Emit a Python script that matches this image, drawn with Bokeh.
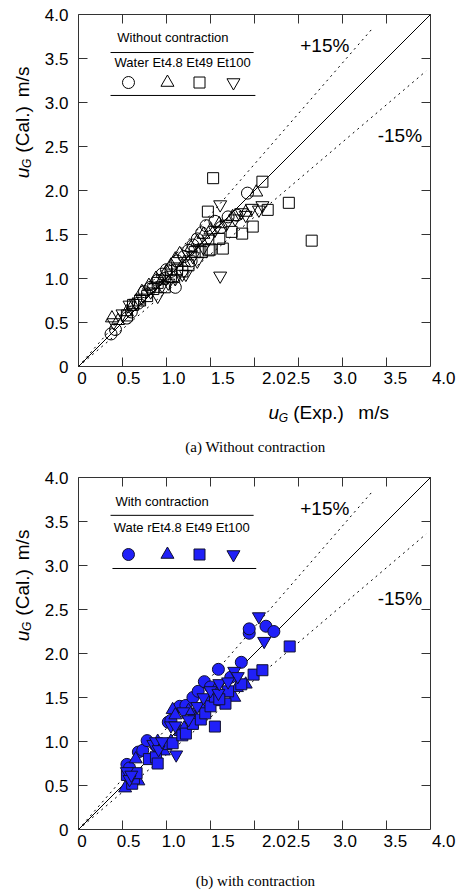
import numpy as np
from bokeh.plotting import figure
from bokeh.models import LinearAxis, FixedTicker, Label, Range1d
from bokeh.layouts import column
from bokeh.embed import file_html
from bokeh.resources import INLINE

# ---------------- data ----------------
# (a) Without contraction
a_water_x = [0.37, 0.42, 0.55, 0.60, 0.68, 0.75, 0.82, 0.90, 0.95, 1.00, 1.05, 1.10, 1.12, 1.20, 1.25, 1.30, 1.35, 1.40, 1.45, 1.55, 1.62, 1.70, 1.80, 1.92, 1.28, 0.98]
a_water_y = [0.37, 0.42, 0.55, 0.62, 0.72, 0.85, 0.90, 0.98, 1.05, 1.10, 1.08, 0.90, 1.20, 1.25, 1.32, 1.38, 1.45, 1.52, 1.60, 1.65, 1.58, 1.70, 1.72, 1.97, 1.20, 1.00]
a_et48_x = [0.38, 0.45, 0.55, 0.62, 0.72, 0.80, 0.88, 0.95, 1.00, 1.05, 1.10, 1.15, 1.20, 1.28, 1.35, 1.42, 1.50, 1.60, 1.75, 1.90, 2.02, 1.08]
a_et48_y = [0.55, 0.52, 0.62, 0.70, 0.85, 0.92, 1.00, 0.98, 1.08, 1.15, 1.22, 1.28, 1.18, 1.35, 1.42, 1.50, 1.55, 1.62, 1.70, 1.75, 1.98, 1.00]
a_et49_x = [0.55, 0.62, 0.70, 0.78, 0.85, 0.90, 0.98, 1.05, 1.12, 1.18, 1.25, 1.32, 1.40, 1.48, 1.50, 1.64, 1.74, 1.86, 1.98, 1.47, 1.53, 2.09, 2.15, 2.39, 2.65, 1.60]
a_et49_y = [0.58, 0.70, 0.75, 0.80, 0.88, 0.95, 0.90, 1.02, 1.10, 1.08, 1.15, 1.30, 1.30, 1.32, 1.33, 1.34, 1.53, 1.51, 1.59, 1.76, 2.14, 2.10, 1.78, 1.86, 1.43, 1.45]
a_et100_x = [0.40, 0.50, 0.58, 0.65, 0.72, 0.82, 0.90, 0.95, 1.02, 1.10, 1.18, 1.22, 1.30, 1.35, 1.42, 1.48, 1.55, 1.61, 1.61, 1.68, 1.78, 1.90, 1.97, 2.05, 2.09, 1.85]
a_et100_y = [0.50, 0.60, 0.70, 0.72, 0.78, 0.85, 0.80, 0.92, 0.95, 1.00, 1.05, 1.05, 1.25, 1.20, 1.35, 1.45, 1.55, 1.84, 1.03, 1.62, 1.68, 1.72, 1.80, 1.78, 1.83, 1.75]

# (b) with contraction
b_water_x = [0.55, 0.58, 0.68, 0.73, 0.78, 0.88, 1.02, 1.05, 1.15, 1.22, 1.30, 1.36, 1.43, 1.59, 1.73, 1.85, 1.94, 1.94, 2.13, 2.22, 1.50]
b_water_y = [0.74, 0.70, 0.88, 0.90, 1.01, 0.95, 1.22, 1.24, 1.40, 1.41, 1.50, 1.57, 1.68, 1.82, 1.73, 1.90, 2.23, 2.28, 2.31, 2.25, 1.62]
b_et48_x = [0.53, 0.58, 0.65, 0.68, 0.82, 0.90, 0.97, 1.05, 1.07, 1.10, 1.16, 1.20, 1.30, 1.40, 1.50, 1.62, 1.70, 1.77, 1.80, 1.90, 1.55, 1.25]
b_et48_y = [0.47, 0.60, 0.80, 0.55, 0.80, 1.00, 0.89, 1.00, 1.36, 1.30, 1.11, 1.15, 1.30, 1.38, 1.50, 1.45, 1.55, 1.50, 1.61, 1.65, 1.58, 1.35]
b_et49_x = [0.55, 0.61, 0.63, 0.66, 0.80, 0.88, 0.90, 1.00, 1.07, 1.18, 1.22, 1.30, 1.39, 1.44, 1.50, 1.55, 1.55, 1.67, 1.70, 1.85, 1.99, 2.09, 2.40, 1.60]
b_et49_y = [0.62, 0.52, 0.58, 0.64, 0.80, 0.82, 0.75, 0.97, 0.98, 1.07, 1.09, 1.20, 1.25, 1.32, 1.40, 1.17, 1.51, 1.43, 1.57, 1.65, 1.76, 1.81, 2.08, 1.48]
b_et100_x = [0.55, 0.58, 0.60, 0.85, 0.88, 0.91, 0.95, 1.05, 1.10, 1.11, 1.19, 1.25, 1.35, 1.42, 1.50, 1.59, 1.60, 1.77, 1.81, 2.05, 2.11, 1.70]
b_et100_y = [0.66, 0.57, 0.62, 0.97, 1.00, 0.91, 1.00, 1.18, 1.18, 0.85, 1.34, 1.25, 1.40, 1.50, 1.58, 1.55, 1.66, 1.80, 1.74, 2.42, 2.14, 1.68]

# reference lines
diag_x = [0, 4]
plus_x = [0, 3.35]
minus_x = [0, 3.95]
plus_ratio = 1.15
minus_ratio = 0.85

# axis ticks / labels
AX_MIN, AX_MAX = 0, 4
tick_vals = [0, 0.5, 1, 1.5, 2, 2.5, 3, 3.5, 4]
tick_labels = ["0", "0.5", "1.0", "1.5", "2.0", "2.5", "3.0", "3.5", "4.0"]
xlabel_pos = [0.04, 0.57, 1.08, 1.64, 2.22, 2.5, 3.03, 3.6, 4.15]

markers = ["circle", "triangle", "square", "inverted_triangle"]
msizes = [12, 13, 11, 13]

FONT = "Liberation Sans"
BLUE = "#2020f8"
PX = 88.0                 # pixels per data unit
TICK_LEN = 9 / PX         # inward tick length
LEFT_PX, RIGHT_PX, TOP_PX = 78, 32, 14
FRAME_COLOR = "#333333"


def make_fig(height, caption, caption_y):
    bottom_px = height - TOP_PX - 4 * PX
    p = figure(width=462, height=height,
               x_range=Range1d(AX_MIN - LEFT_PX / PX, AX_MAX + RIGHT_PX / PX),
               y_range=Range1d(AX_MIN - bottom_px / PX, AX_MAX + TOP_PX / PX),
               output_backend="svg", toolbar_location=None,
               x_axis_location=None, y_axis_location=None,
               min_border_left=0, min_border_right=0, min_border_top=0, min_border_bottom=0)
    p.outline_line_color = None
    p.background_fill_color = "white"
    p.border_fill_color = "white"
    for r in list(p.center):
        r.visible = False

    # plot box
    p.quad(left=[AX_MIN], right=[AX_MAX], bottom=[AX_MIN], top=[AX_MAX],
           fill_color=None, line_color=FRAME_COLOR, line_width=1)

    # inward ticks on bottom, top and right edges
    inner = tick_vals[1:-1]
    n = len(inner)
    p.segment(inner, [AX_MIN] * n, inner, [AX_MIN + TICK_LEN] * n, line_color=FRAME_COLOR, line_width=1)
    p.segment(inner, [AX_MAX] * n, inner, [AX_MAX - TICK_LEN] * n, line_color=FRAME_COLOR, line_width=1)
    p.segment([AX_MAX] * n, inner, [AX_MAX - TICK_LEN] * n, inner, line_color=FRAME_COLOR, line_width=1)

    # x tick labels (as drawn in the original, slightly shifted)
    lab = LinearAxis(ticker=FixedTicker(ticks=xlabel_pos), fixed_location=AX_MIN,
                     major_label_overrides={k: v for k, v in zip(xlabel_pos, tick_labels)},
                     major_tick_line_color=None, major_tick_in=0, major_tick_out=0,
                     minor_tick_line_color=None, axis_line_color=None,
                     major_label_standoff=5,
                     major_label_text_font=FONT, major_label_text_font_size="17px",
                     major_label_text_color="black")
    p.add_layout(lab, "below")

    left = LinearAxis(ticker=FixedTicker(ticks=tick_vals), fixed_location=AX_MIN, bounds=(AX_MIN, AX_MAX),
                      major_label_overrides={k: v for k, v in zip(tick_vals, tick_labels)},
                      major_tick_in=9, major_tick_out=0, minor_tick_line_color=None,
                      axis_line_color=None, major_tick_line_color=FRAME_COLOR,
                      major_label_standoff=10, major_label_text_font=FONT,
                      major_label_text_font_size="17px", major_label_text_color="black")
    p.add_layout(left, "left")

    # reference lines
    p.line(diag_x, diag_x, line_color="black", line_width=1)
    p.line(plus_x, [v * plus_ratio for v in plus_x], line_color="black", line_width=1, line_dash="2 4")
    p.line(minus_x, [v * minus_ratio for v in minus_x], line_color="black", line_width=1, line_dash="2 4")

    p.add_layout(Label(x=2.52, y=3.65, text="+15%", text_font=FONT, text_font_size="19px",
                       text_baseline="middle", text_align="left", text_color="black"))
    p.add_layout(Label(x=3.40, y=2.63, text="-15%", text_font=FONT, text_font_size="19px",
                       text_baseline="middle", text_align="left", text_color="black"))

    # y axis title
    p.add_layout(Label(x=-0.64, y=2.14, text="u", angle=np.pi / 2, text_font=FONT,
                       text_font_size="19px", text_font_style="italic", text_baseline="alphabetic",
                       text_align="left", text_color="black"))
    p.add_layout(Label(x=-0.585, y=2.255, text="G", angle=np.pi / 2, text_font=FONT,
                       text_font_size="12px", text_font_style="italic", text_baseline="alphabetic",
                       text_align="left", text_color="black"))
    p.add_layout(Label(x=-0.64, y=2.43, text="(Cal.)", angle=np.pi / 2, text_font=FONT,
                       text_font_size="19px", text_baseline="alphabetic",
                       text_align="left", text_color="black"))
    p.add_layout(Label(x=-0.64, y=3.06, text="m/s", angle=np.pi / 2, text_font=FONT,
                       text_font_size="19px", text_baseline="alphabetic",
                       text_align="left", text_color="black"))

    # caption
    p.add_layout(Label(x=2.01, y=caption_y, text=caption, text_font="Liberation Serif",
                       text_font_size="15px", text_align="center", text_baseline="middle",
                       text_color="black"))
    return p


# ---------------- (a) ----------------
p1 = make_fig(463, "(a) Without contraction", -0.92)
a_sets = [(a_water_x, a_water_y), (a_et48_x, a_et48_y), (a_et49_x, a_et49_y), (a_et100_x, a_et100_y)]
for (xs, ys), m, s in zip(a_sets, markers, msizes):
    p1.scatter(xs, ys, marker=m, size=s, fill_color=None, line_color="black", line_width=1)

# x axis title
p1.add_layout(Label(x=2.16, y=-0.523, text="u", text_font=FONT, text_font_size="19px",
                    text_font_style="italic", text_baseline="alphabetic", text_color="black"))
p1.add_layout(Label(x=2.275, y=-0.59, text="G", text_font=FONT, text_font_size="12px",
                    text_font_style="italic", text_baseline="alphabetic", text_color="black"))
p1.add_layout(Label(x=2.44, y=-0.523, text="(Exp.)", text_font=FONT, text_font_size="19px",
                    text_baseline="alphabetic", text_color="black"))
p1.add_layout(Label(x=3.18, y=-0.523, text="m/s", text_font=FONT, text_font_size="19px",
                    text_baseline="alphabetic", text_color="black"))

# legend block (a)
leg_x = [0.568, 1.011, 1.375, 1.761]
p1.add_layout(Label(x=0.44, y=3.74, text="Without contraction", text_font=FONT, text_font_size="13px",
                    text_baseline="middle", text_color="black"))
p1.line([0.364, 1.99], [3.568, 3.568], line_color="black", line_width=1)
p1.add_layout(Label(x=0.41, y=3.455, text="Water Et4.8 Et49 Et100", text_font=FONT, text_font_size="13px",
                    text_baseline="middle", text_color="black"))
for lx, m, s in zip(leg_x, markers, msizes):
    p1.scatter([lx], [3.227], marker=m, size=s, fill_color=None, line_color="black", line_width=1)
p1.line([0.364, 2.01], [3.08, 3.08], line_color="black", line_width=1)

# ---------------- (b) ----------------
p2 = make_fig(429, "(b) with contraction", -0.58)
b_sets = [(b_water_x, b_water_y), (b_et48_x, b_et48_y), (b_et49_x, b_et49_y), (b_et100_x, b_et100_y)]
for (xs, ys), m, s in zip(b_sets, markers, msizes):
    p2.scatter(xs, ys, marker=m, size=s, fill_color=BLUE, line_color="#101030", line_width=1)

p2.add_layout(Label(x=0.42, y=3.73, text="With contraction", text_font=FONT, text_font_size="13px",
                    text_baseline="middle", text_color="black"))
p2.line([0.364, 1.99], [3.57, 3.57], line_color="black", line_width=1)
p2.add_layout(Label(x=0.40, y=3.43, text="Wate rEt4.8 Et49 Et100", text_font=FONT, text_font_size="13px",
                    text_baseline="middle", text_color="black"))
for lx, m, s in zip(leg_x, markers, msizes):
    p2.scatter([lx], [3.125], marker=m, size=s, fill_color=BLUE, line_color="#101030", line_width=1)
p2.line([0.386, 2.02], [2.966, 2.966], line_color="black", line_width=1)

layout = column(p1, p2, spacing=0)
open("out.html", "w").write(file_html(layout, INLINE))
